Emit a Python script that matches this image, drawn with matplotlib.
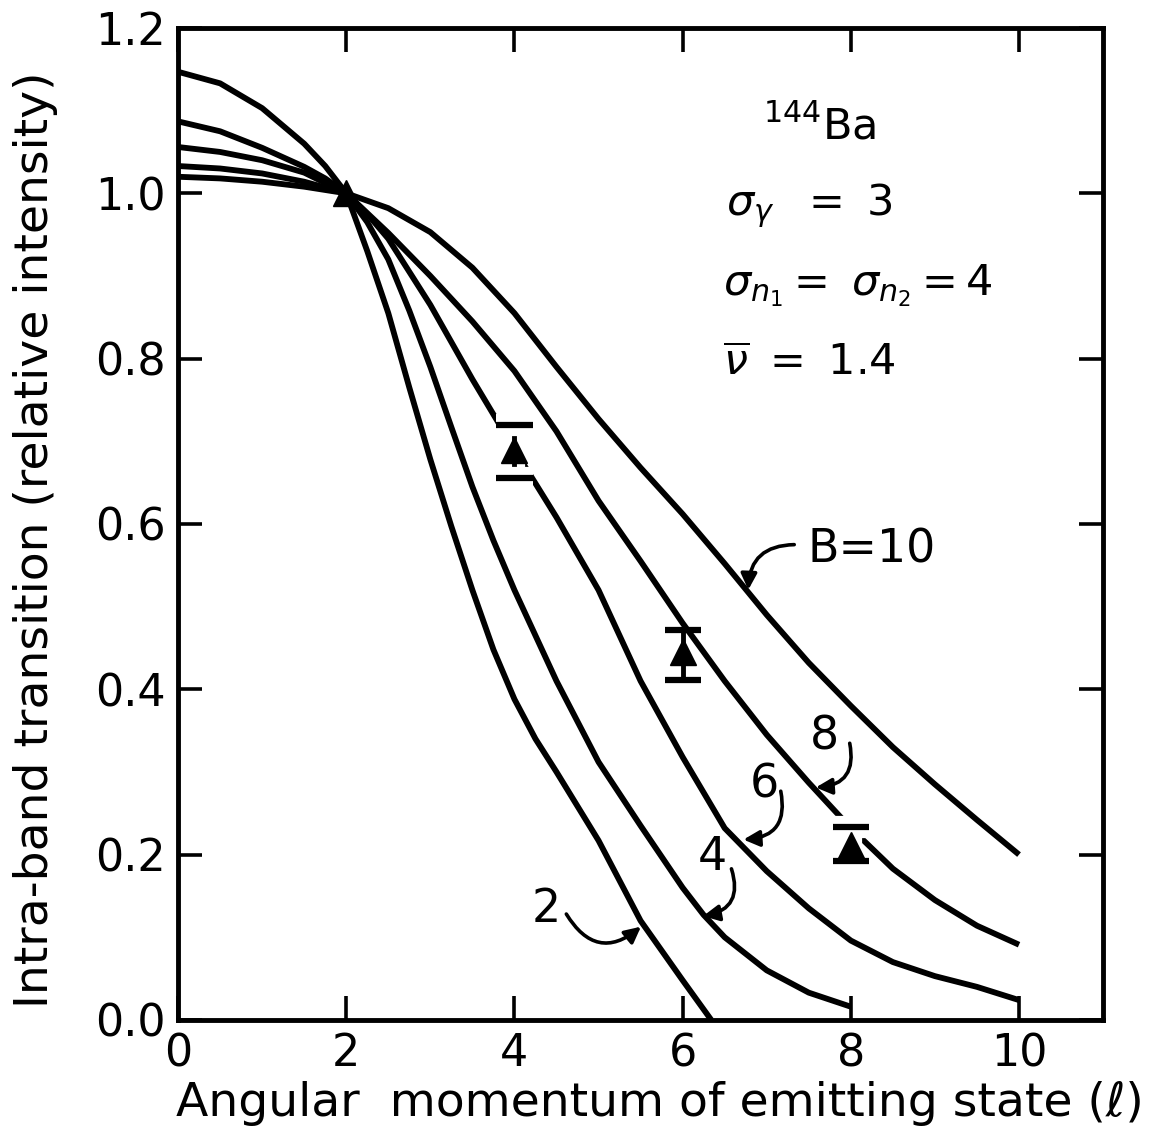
import matplotlib
matplotlib.use('Agg')
import matplotlib.pyplot as plt
import matplotlib.patheffects as pe

plt.rcParams['font.family'] = ['DejaVu Sans']
plt.rcParams['mathtext.fontset'] = 'dejavusans'

# calculated curves, one per B value
b2_x = [0, 0.5, 1, 1.5, 1.75, 2, 2.25, 2.5, 2.75, 3, 3.25, 3.5, 3.75, 4, 4.25, 4.5, 5, 5.5, 6, 6.34]
b2_y = [1.147, 1.133, 1.103, 1.06, 1.033, 1.0, 0.93, 0.855, 0.765, 0.678, 0.597, 0.52, 0.448,
        0.388, 0.34, 0.30, 0.217, 0.12, 0.048, 0.0]

b4_x = [0, 0.5, 1, 1.5, 1.75, 2, 2.25, 2.5, 2.75, 3, 3.25, 3.5, 3.75, 4, 4.5, 5, 5.5, 6, 6.25,
        6.5, 7, 7.5, 8.0]
b4_y = [1.087, 1.075, 1.055, 1.032, 1.018, 1.0, 0.965, 0.92, 0.858, 0.79, 0.717, 0.645, 0.58,
        0.52, 0.41, 0.312, 0.235, 0.16, 0.127, 0.10, 0.06, 0.033, 0.016]

b6_x = [0, 0.5, 1, 1.5, 2, 2.25, 2.5, 3, 3.5, 4, 4.5, 5, 5.5, 6, 6.5, 7, 7.5, 8, 8.5, 9, 9.5, 10]
b6_y = [1.056, 1.05, 1.04, 1.025, 1.0, 0.975, 0.945, 0.865, 0.775, 0.69, 0.608, 0.52, 0.41,
        0.318, 0.232, 0.18, 0.135, 0.096, 0.07, 0.053, 0.04, 0.024]

b8_x = [0, 0.5, 1, 1.5, 2, 2.5, 3, 3.5, 4, 4.5, 5, 5.5, 6, 6.5, 7, 7.5, 8, 8.5, 9, 9.5, 10]
b8_y = [1.033, 1.03, 1.024, 1.014, 1.0, 0.952, 0.90, 0.845, 0.785, 0.712, 0.628, 0.555, 0.48,
        0.41, 0.345, 0.287, 0.232, 0.183, 0.145, 0.114, 0.091]

b10_x = [0, 0.5, 1, 1.5, 2, 2.5, 3, 3.5, 4, 4.5, 5, 5.5, 6, 6.5, 7, 7.5, 8, 8.5, 9, 9.5, 10]
b10_y = [1.02, 1.018, 1.014, 1.008, 1.0, 0.982, 0.953, 0.91, 0.855, 0.79, 0.727, 0.668, 0.612,
         0.552, 0.49, 0.432, 0.38, 0.33, 0.285, 0.242, 0.2]

# measured points
pt_x = [2, 4, 6, 8]
pt_y = [1.0, 0.69, 0.445, 0.212]
err_x = [4, 6, 8]
err_y = [0.69, 0.445, 0.212]
err_lo = [0.034, 0.034, 0.020]
err_hi = [0.030, 0.027, 0.021]

fig = plt.figure(figsize=(11.51, 11.46), dpi=100)
ax = fig.add_axes([0.1547, 0.110, 0.8037, 0.8656])

lw = 4.2
for xs, ys in [(b2_x, b2_y), (b4_x, b4_y), (b6_x, b6_y), (b8_x, b8_y), (b10_x, b10_y)]:
    ax.plot(xs, ys, color='black', lw=lw, solid_capstyle='butt', solid_joinstyle='round', zorder=2)

# error bars; the curves are broken where they pass the points at 4 and 8
halo = [pe.Stroke(linewidth=16, foreground='white'), pe.Normal()]
for i in range(len(err_x)):
    eb = ax.errorbar([err_x[i]], [err_y[i]], yerr=[[err_lo[i]], [err_hi[i]]],
                     fmt='none', ecolor='black', elinewidth=3.5, capsize=13,
                     capthick=4.5, zorder=4)
    if err_x[i] != 6:
        for art in list(eb.lines[1]) + list(eb.lines[2]):
            art.set_path_effects(halo)
ax.plot(pt_x, pt_y, linestyle='none', marker='^', markersize=19, color='black', zorder=5)

ax.set_xlim(0, 11)
ax.set_ylim(0, 1.2)
ax.set_xticks([0, 2, 4, 6, 8, 10])
ax.set_yticks([0.0, 0.2, 0.4, 0.6, 0.8, 1.0, 1.2])
ax.set_yticklabels(['0.0', '0.2', '0.4', '0.6', '0.8', '1.0', '1.2'])
ax.tick_params(direction='in', length=17, width=2.6, top=True, right=True,
               labelsize=32, pad=9)
for sp in ax.spines.values():
    sp.set_linewidth(3.5)

ax.set_xlabel('Angular  momentum of emitting state (\u2113)', fontsize=34)
ax.xaxis.set_label_coords(0.521, -0.062)
ax.set_ylabel('Intra-band transition (relative intensity)', fontsize=34)
ax.yaxis.set_label_coords(-0.13, 0.484)

# curve labels with curly arrows
lab_fs = 33
arrow = dict(arrowstyle='-|>', color='black', lw=2.6, mutation_scale=24)
ax.text(7.49, 0.568, 'B=10', fontsize=lab_fs, va='center', ha='left')
ax.annotate('', xy=(6.78, 0.517), xytext=(7.36, 0.575),
            arrowprops=dict(arrow, connectionstyle='arc3,rad=0.5'))
ax.text(7.69, 0.342, '8', fontsize=lab_fs, va='center', ha='center')
ax.annotate('', xy=(7.55, 0.281), xytext=(7.98, 0.338),
            arrowprops=dict(arrow, connectionstyle='arc3,rad=-0.6'))
ax.text(6.97, 0.284, '6', fontsize=lab_fs, va='center', ha='center')
ax.annotate('', xy=(6.69, 0.218), xytext=(7.16, 0.280),
            arrowprops=dict(arrow, connectionstyle='arc3,rad=-0.6'))
ax.text(6.35, 0.196, '4', fontsize=lab_fs, va='center', ha='center')
ax.annotate('', xy=(6.21, 0.125), xytext=(6.57, 0.186),
            arrowprops=dict(arrow, connectionstyle='arc3,rad=-0.6'))
ax.text(4.38, 0.133, '2', fontsize=lab_fs, va='center', ha='center')
ax.annotate('', xy=(5.53, 0.115), xytext=(4.60, 0.131),
            arrowprops=dict(arrow, connectionstyle='arc3,rad=0.6'))

# parameter block
blk_fs = 31
ax.text(6.96, 1.065, r'$^{144}$Ba', fontsize=blk_fs, va='baseline', ha='left')
ax.text(6.52, 0.974, r'$\sigma_{\gamma}\ \ =\ 3$', fontsize=blk_fs, va='baseline', ha='left')
ax.text(6.48, 0.877, r'$\sigma_{n_1} = \ \sigma_{n_2} = 4$', fontsize=blk_fs,
        va='baseline', ha='left')
ax.text(6.48, 0.780, r'$\overline{\nu}\ =\ 1.4$', fontsize=blk_fs, va='baseline', ha='left')

fig.savefig('out.png', dpi=100)
